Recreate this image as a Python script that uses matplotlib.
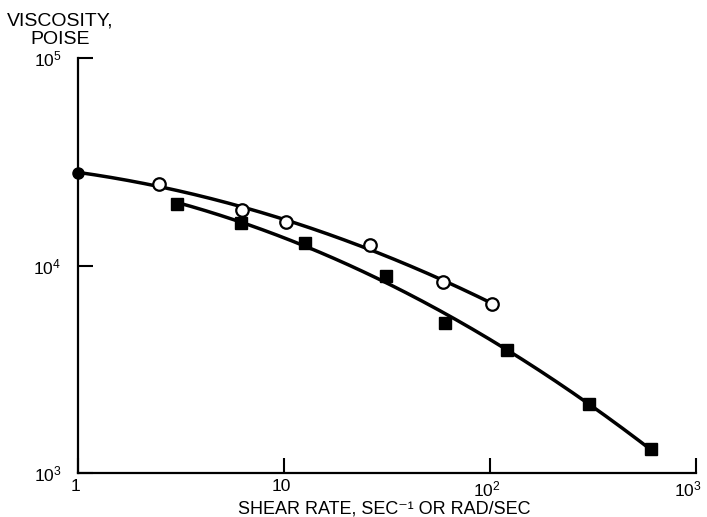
import numpy as np
import matplotlib
matplotlib.use("Agg")
import matplotlib.pyplot as plt
import matplotlib.transforms as mtransforms

plt.rcParams['font.family'] = ['Liberation Sans', 'DejaVu Sans']
plt.rcParams['mathtext.default'] = 'regular'

# open circles (dynamic, rad/sec)
circ_rate = [1.0, 2.47, 6.25, 10.2, 26.1, 59.0, 102.0]
circ_visc = [28000, 24700, 18500, 16200, 12600, 8370, 6540]

# filled squares (steady shear, 1/sec)
sq_rate = [3.02, 6.18, 12.6, 31.3, 60.4, 121, 302, 605]
sq_visc = [19800, 16000, 12900, 8940, 5290, 3910, 2160, 1310]

x_ticks = [1, 10, 100, 1000]
x_ticklabels = ['1', '10', '$10^2$', '$10^3$']
y_ticks = [1e3, 1e4, 1e5]
y_ticklabels = ['$10^3$', '$10^4$', '$10^5$']


def smooth(rate, visc):
    # quadratic fit in log-log space for the drawn curve
    lx, ly = np.log10(rate), np.log10(visc)
    c = np.polyfit(lx, ly, 2)
    xs = np.linspace(lx.min(), lx.max(), 200)
    return 10 ** xs, 10 ** np.polyval(c, xs)


fig = plt.figure(figsize=(7.07, 5.17), dpi=100)
ax = fig.add_axes([78 / 707, 1 - 473 / 517, (696 - 78) / 707, (473 - 58) / 517])
ax.set_xscale('log')
ax.set_yscale('log')
ax.set_xlim(1, 1000)
ax.set_ylim(1e3, 1e5)

cx, cy = smooth(circ_rate, circ_visc)
ax.plot(cx, cy, color='black', lw=2.5, solid_capstyle='round', zorder=2)
sx, sy = smooth(sq_rate, sq_visc)
ax.plot(sx, sy, color='black', lw=2.5, solid_capstyle='round', zorder=2)

ax.plot(circ_rate[1:], circ_visc[1:], 'o', ms=9, mfc='white', mec='black', mew=1.6, zorder=3)
ax.plot(circ_rate[:1], circ_visc[:1], 'o', ms=8, color='black', zorder=3, clip_on=False)
ax.plot(sq_rate, sq_visc, 's', ms=8.5, color='black', zorder=3)

for s in ['top', 'right']:
    ax.spines[s].set_visible(False)
for s in ['left', 'bottom']:
    ax.spines[s].set_linewidth(1.6)

ax.set_xticks(x_ticks)
ax.set_xticklabels(x_ticklabels)
ax.set_yticks(y_ticks)
ax.set_yticklabels(y_ticklabels)
ax.minorticks_off()
ax.tick_params(axis='x', direction='in', length=11, width=1.5, pad=4.5, labelsize=12.5)
ax.tick_params(axis='y', direction='in', length=11, width=1.5, pad=12, labelsize=12.5)

# nudge x tick labels a little left, as in the original
for i, lab in enumerate(ax.get_xticklabels()):
    dx = -8 if i == len(x_ticks) - 1 else -3
    lab.set_transform(lab.get_transform() + mtransforms.ScaledTranslation(dx / 100, 0, fig.dpi_scale_trans))

fig.text(384 / 707, 1 - 513 / 517, 'SHEAR RATE, SEC\u207b\u00b9 OR RAD/SEC',
         ha='center', va='baseline', fontsize=13)
fig.text(60 / 707, 1 - 30 / 517, 'VISCOSITY,\nPOISE', ha='center', va='center',
         fontsize=14, linespacing=1.15)

fig.savefig('out.png', dpi=100)
